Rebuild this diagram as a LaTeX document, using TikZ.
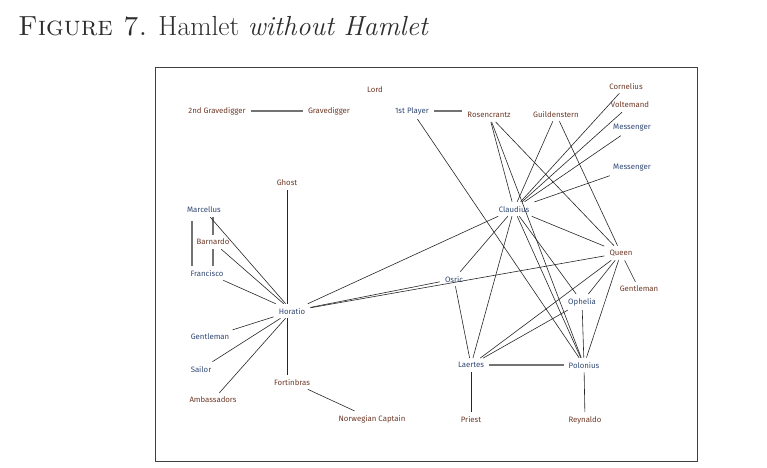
\documentclass[tikz,border=0pt]{standalone}
\usepackage{fontspec}
\newfontfamily\lab{Fira Sans}
\definecolor{nblue}{RGB}{50,72,115}
\definecolor{nbrown}{RGB}{110,58,40}
\definecolor{ttl}{RGB}{45,45,45}
\begin{document}
\begin{tikzpicture}[x=1pt,y=-1pt,
  lbl/.style={font=\lab\fontsize{7.8}{9}\selectfont, inner xsep=5pt, inner ysep=4pt},
  bl/.style={lbl,text=nblue},
  br/.style={lbl,text=nbrown},
  edge/.style={draw=black!85, line width=0.6pt},
  gedge/.style={draw=black!55, line width=1.3pt}]
\useasboundingbox (0,0) rectangle (767,467);
\node[anchor=base west, inner sep=0pt, text=ttl, font=\fontsize{27.6}{32}\selectfont] (title) at (18,35)
  {\textsc{Figure 7.} Hamlet \textit{without Hamlet}};
\draw[line width=0.8pt, black!75] (155,67) rectangle (697,461);
% nodes
\node[br] (lord)   at (375,90)  {Lord};
\node[br] (grave2) at (217,111) {2nd Gravedigger};
\node[br] (grave)  at (329,111) {Gravedigger};
\node[bl] (player) at (412,111) {1st Player};
\node[br] (rosen)  at (489,115) {Rosencrantz};
\node[br] (guild)  at (556,114) {Guildenstern};
\node[br] (corn)   at (626,86)  {Cornelius};
\node[br] (volt)   at (630,105) {Voltemand};
\node[bl] (mess1)  at (632,128) {Messenger};
\node[bl] (mess2)  at (632,168) {Messenger};
\node[bl] (claud)  at (514,209) {Claudius};
\node[br] (queen)  at (621,253) {Queen};
\node[br] (gentr)  at (639,289) {Gentleman};
\node[bl] (osric)  at (454,279) {Osric};
\node[bl] (oph)    at (582,302) {Ophelia};
\node[bl] (laer)   at (471,365) {Laertes};
\node[bl] (polo)   at (584,365) {Polonius};
\node[br] (priest) at (471,419) {Priest};
\node[br] (reyn)   at (585,420) {Reynaldo};
\node[br] (ghost)  at (287,183) {Ghost};
\node[bl] (marc)   at (204,210) {Marcellus};
\node[br] (barn)   at (213,242) {Barnardo};
\node[bl] (fran)   at (207,273) {Francisco};
\node[bl] (hor)    at (292,311) {Horatio};
\node[bl] (gentl)  at (210,337) {Gentleman};
\node[bl] (sailor) at (201,369) {Sailor};
\node[br] (amb)    at (213,400) {Ambassadors};
\node[br] (fort)   at (292,382) {Fortinbras};
\node[br] (norw)   at (372,419) {Norwegian Captain};
% grey short links
\draw[gedge] (grave2) -- (grave);
\draw[gedge] (player.east) -- (player.east -| rosen.west);
\draw[gedge] (laer) -- (polo);
\draw[gedge] (marc.south -| barn.north) -- (barn.north);
\draw[gedge] (barn.south) -- (barn.south |- fran.north);
\draw[gedge] ([xshift=-12pt,yshift=-4pt]marc.south) -- ([xshift=-15pt]fran.north);
% left cluster
\draw[edge] (ghost) -- (ghost |- hor.north);
\draw[edge] (ghost |- hor.south) -- (ghost |- fort.north);
\draw[edge] (marc) -- (hor);
\draw[edge] (barn) -- (hor);
\draw[edge] (fran) -- (hor);
\draw[edge] (gentl) -- (hor);
\draw[edge] (sailor) -- (hor);
\draw[edge] (amb) -- (hor);
\draw[edge] (fort) -- (norw);
\draw[edge] (hor) -- (claud);
\draw[edge] (hor) -- (osric);
\draw[edge] (hor) -- (queen);
% upper right
\draw[edge] (player) -- (polo);
\draw[edge] (rosen) -- (claud);
\draw[edge] (rosen) -- (polo);
\draw[edge] (rosen) -- (queen);
\draw[edge] (guild) -- (claud);
\draw[edge] (guild) -- (queen);
\draw[edge] (corn) -- (claud);
\draw[edge] (volt) -- (claud);
\draw[edge] (mess1) -- (claud);
\draw[edge] (mess2) -- (claud);
% Claudius
\draw[edge] (claud) -- (osric);
\draw[edge] (claud) -- (laer);
\draw[edge] (claud) -- (polo);
\draw[edge] (claud) -- (oph);
\draw[edge] (claud) -- (queen);
% Queen
\draw[edge] (queen) -- (laer);
\draw[edge] (queen) -- (oph);
\draw[edge] (queen) -- (polo);
\draw[edge] (queen) -- (gentr);
% lower
\draw[edge] (osric) -- (laer);
\draw[edge] (oph) -- (laer);
\draw[edge] (oph) -- (polo);
\draw[edge] (laer) -- (priest);
\draw[edge] (polo) -- (reyn);
\end{tikzpicture}
\end{document}
